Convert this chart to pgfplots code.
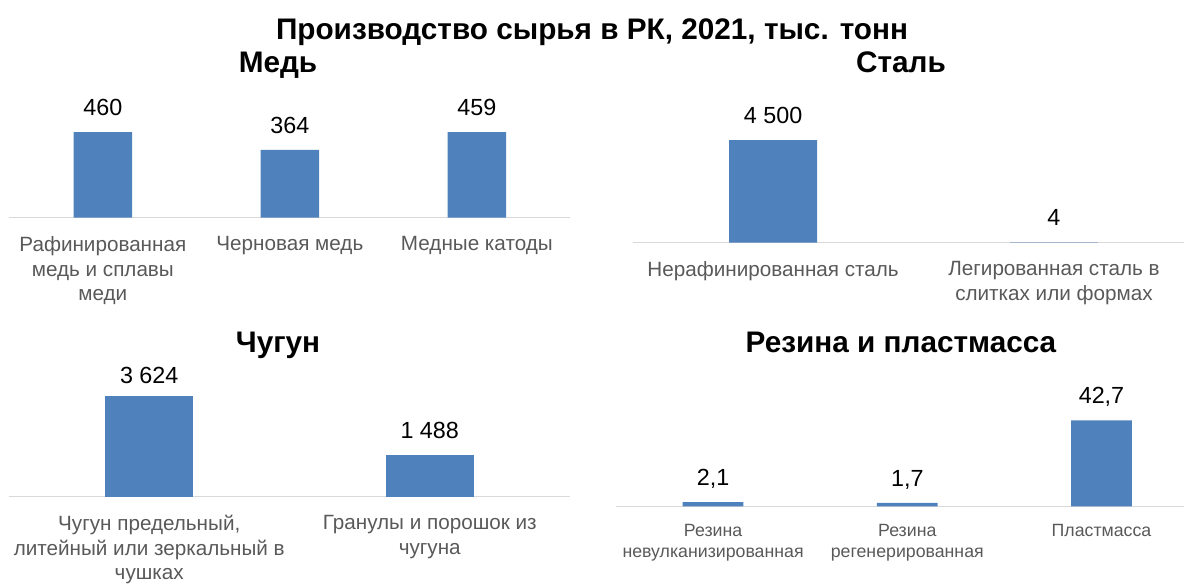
\documentclass[border=0pt]{standalone}
\usepackage{pgfplots}
\pgfplotsset{compat=1.18}
\usepackage{fontspec}
\setmainfont{Liberation Sans}
\definecolor{barblue}{HTML}{4F81BD}
\definecolor{axgray}{HTML}{D9D9D9}
\definecolor{lblgray}{HTML}{595959}
\pgfplotsset{
  panel/.style={
    ybar, bar width=0.313, bar shift=0pt,
    scale only axis, clip=false, anchor=south west,
    enlargelimits=false, ymin=0,
    hide y axis,
    axis x line=bottom,
    x axis line style={-, draw=axgray, line width=1pt},
    xtick style={draw=none}, major tick length=0pt,
    xticklabel style={align=center, text=lblgray, anchor=north, inner sep=0pt,
      font=\fontsize{15.5}{18.3}\selectfont, yshift=-14pt},
    nodes near coords, point meta=explicit symbolic,
    nodes near coords style={anchor=base, yshift=12.4pt, inner sep=0pt, text=black,
      font=\fontsize{17.5}{21}\selectfont},
  },
}
\tikzset{titlefont/.style={font=\fontsize{22.3}{26}\selectfont\bfseries, anchor=base, inner sep=0pt}}
\begin{document}
\begin{tikzpicture}
\path[use as bounding box] (0pt,0pt) rectangle (888pt,-437.25pt);
\node[titlefont] at (444pt,-29.25pt) {Производство сырья в РК, 2021, тыс. тонн};
\node[titlefont] at (208.5pt,-54.5pt) {Медь};
\node[titlefont] at (675.75pt,-54.5pt) {Сталь};
\node[titlefont] at (208.5pt,-264pt) {Чугун};
\node[titlefont] at (675.75pt,-264pt) {Резина и пластмасса};

% Медь
\begin{axis}[panel, at={(7pt,-163.3pt)}, width=420.75pt, height=64.3pt,
  xmin=-0.5, xmax=2.5, ymax=460,
  xtick={0,1,2},
  xticklabels={{Рафинированная\\медь и сплавы\\меди},{Черновая медь},{Медные катоды}}]
\addplot[fill=barblue, draw=none] coordinates {(0,460) [460] (1,364) [364] (2,459) [459]};
\end{axis}

% Сталь
\begin{axis}[panel, at={(474.5pt,-181.9pt)}, width=413.5pt, height=76.9pt,
  xmin=-0.5, xmax=1.463, ymax=4500,
  xtick={0,1},
  xticklabels={{Нерафинированная сталь},{Легированная сталь в\\слитках или формах}}]
\addplot[fill=barblue, draw=none] coordinates {(0,4500) [4 500] (1,4) [4]};
\end{axis}

% Чугун
\begin{axis}[panel, at={(6.75pt,-372.5pt)}, width=420.75pt, height=75.75pt,
  xmin=-0.5, xmax=1.5, ymax=3624,
  xtick={0,1},
  xticklabels={{Чугун предельный,\\литейный или зеркальный в\\чушках},{Гранулы и порошок из\\чугуна}}]
\addplot[fill=barblue, draw=none, nodes near coords style={yshift=-3.1pt}] coordinates {(0,3624) [3 624]};
\addplot[fill=barblue, draw=none] coordinates {(1,1488) [1 488]};
\end{axis}

% Резина и пластмасса
\begin{axis}[panel, at={(462pt,-379.7pt)}, width=426pt, height=64.5pt,
  xmin=-0.5, xmax=2.425, ymax=42.7,
  xtick={0,1,2},
  xticklabel style={font=\fontsize{13.3}{15.75}\selectfont, yshift=1pt},
  xticklabels={{Резина\\невулканизированная},{Резина\\регенерированная},{Пластмасса}}]
\addplot[fill=barblue, draw=none] coordinates {(0,2.1) [2,1] (1,1.7) [1,7] (2,42.7) [42,7]};
\end{axis}
\end{tikzpicture}
\end{document}
